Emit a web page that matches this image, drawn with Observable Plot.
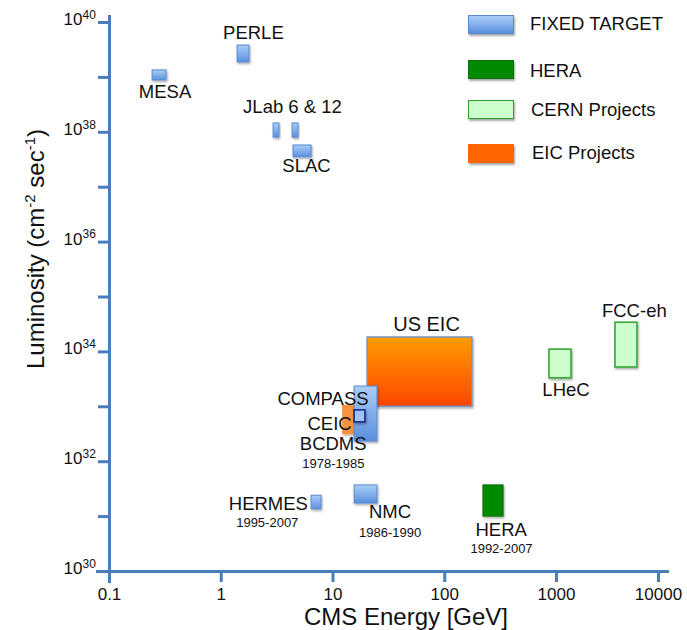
<!DOCTYPE html>
<html>
<head>
<meta charset="utf-8">
<script src="https://cdn.jsdelivr.net/npm/d3@7"></script>
<script src="https://cdn.jsdelivr.net/npm/@observablehq/plot@0.6"></script>
<style>
  body { margin: 0; background: #fff; }
  #wrap { position: relative; width: 687px; height: 630px; font-family: "Liberation Sans", Arial, sans-serif; }
  .sw { position: absolute; left: 468px; width: 46px; height: 19px; box-sizing: border-box; box-shadow: 1px 1.5px 2px rgba(0,0,0,0.35); }
  .lt { position: absolute; font-size: 18.5px; color: #111; white-space: nowrap; line-height: normal; }
</style>
</head>
<body>
<div id="wrap"></div>
<script>
// ---- data (energy in GeV, luminosity in cm^-2 s^-1) ----
const fixedTarget = [
  {name: "MESA",    e0: 0.243, e1: 0.324, l0: 8.8e38, l1: 1.34e39},
  {name: "PERLE",   e0: 1.40,  e1: 1.79,  l0: 1.87e39, l1: 3.8e39},
  {name: "JLab 6",  e0: 2.94,  e1: 3.32,  l0: 8.0e37, l1: 1.45e38},
  {name: "JLab 12", e0: 4.35,  e1: 4.91,  l0: 8.0e37, l1: 1.45e38},
  {name: "SLAC",    e0: 4.43,  e1: 6.43,  l0: 3.5e37, l1: 5.75e37},
  {name: "HERMES",  e0: 6.43,  e1: 7.89,  l0: 1.35e31, l1: 2.4e31},
  {name: "NMC",     e0: 15.6,  e1: 25.0,  l0: 1.73e31, l1: 3.7e31},
  {name: "COMPASS", e0: 15.6,  e1: 25.0,  l0: 2.33e32, l1: 2.34e33}
];
const bcdms = [{name: "BCDMS", e0: 15.6, e1: 19.5, l0: 5.2e32, l1: 8.6e32}];
const hera = [{name: "HERA", e0: 222, e1: 336, l0: 1.0e31, l1: 3.7e31}];
const cernProjects = [
  {name: "LHeC",   e0: 865,  e1: 1403, l0: 3.3e33, l1: 1.1e34},
  {name: "FCC-eh", e0: 3785, e1: 6220, l0: 5.2e33, l1: 3.4e34}
];
const usEic = [{name: "US EIC", e0: 20.4, e1: 177, l0: 1.0e33, l1: 1.83e34}];
const ceic = [{name: "CEIC", e0: 12.2, e1: 16.6, l0: 3.1e32, l1: 1.06e33}];

const labels = [
  {text: "PERLE",       e: 1.94, l: 10 ** 39.80,  size: 18.5},
  {text: "MESA",        e: 0.314, l: 10 ** 38.725, size: 18.5},
  {text: "JLab 6 & 12", e: 4.34, l: 10 ** 38.452, size: 18.5},
  {text: "SLAC",        e: 5.79, l: 10 ** 37.377, size: 18.5},
  {text: "US EIC",      e: 68.7, l: 10 ** 34.499, size: 20},
  {text: "COMPASS",     e: 8.14, l: 10 ** 33.133, size: 18.5},
  {text: "CEIC",        e: 9.31, l: 10 ** 32.678, size: 18.5},
  {text: "BCDMS",       e: 10.04, l: 10 ** 32.313, size: 18.5},
  {text: "1978-1985",   e: 10.06, l: 10 ** 31.967, size: 13},
  {text: "HERMES",      e: 2.64, l: 10 ** 31.230, size: 18.5},
  {text: "1995-2007",   e: 2.58, l: 10 ** 30.893, size: 13},
  {text: "NMC",         e: 32.4, l: 10 ** 31.084, size: 18.5},
  {text: "1986-1990",   e: 32.4, l: 10 ** 30.710, size: 13},
  {text: "HERA",        e: 320, l: 10 ** 30.756, size: 18.5},
  {text: "1992-2007",   e: 322, l: 10 ** 30.419, size: 13},
  {text: "LHeC",        e: 1240, l: 10 ** 33.297, size: 18.5},
  {text: "FCC-eh",      e: 5795, l: 10 ** 34.745, size: 18.5}
];

const xTicks = [0.1, 1, 10, 100, 1000, 10000];
const yTickExps = [30, 31, 32, 33, 34, 35, 36, 37, 38, 39, 40];
const yLabelExps = [30, 32, 34, 36, 38, 40];
const xTitle = "CMS Energy [GeV]";
const yTitle = "Luminosity (cm-2 sec-1)";
const legendItems = [
  {label: "FIXED TARGET", cls: "ft"},
  {label: "HERA", cls: "hera"},
  {label: "CERN Projects", cls: "cern"},
  {label: "EIC Projects", cls: "eic"}
];

// ---- chart ----
const axisColor = "#4a7ebb";
const txt = "#111";
const rectOpts = (fill, stroke, sw = 1) => ({x1: "e0", x2: "e1", y1: "l0", y2: "l1", fill, stroke, strokeWidth: sw});

const svg = Plot.plot({
  width: 687,
  height: 630,
  marginLeft: 109,
  marginRight: 18,
  marginTop: 22,
  marginBottom: 59,
  style: {fontFamily: '"Liberation Sans", Arial, sans-serif', background: "#fff", color: txt, overflow: "visible"},
  x: {type: "log", domain: [0.1, 1000, 10000], range: [109, 556, 658]},
  y: {type: "log", domain: [1e30, 1e40]},
  marks: [
    Plot.rect(usEic, rectOpts("url(#gradEic)", "#7596c4", 1.5)),
    Plot.rect(ceic, rectOpts("#f5933f", "none")),
    Plot.rect(fixedTarget, rectOpts("url(#gradBlue)", "#5a8ad0", 1)),
    Plot.rect(bcdms, rectOpts("#9fc3f3", "#1c2a8c", 1.6)),
    Plot.rect(hera, rectOpts("#008a00", "#0a700a", 1)),
    Plot.rect(cernProjects, rectOpts("#ccffcc", "#35a835", 1.6)),
    // axes
    Plot.axisY(yTickExps.map(k => 10 ** k), {tickSize: 11, stroke: axisColor, strokeWidth: 3, fill: "none", label: null}),
    Plot.axisX(xTicks, {tickSize: 11, tickPadding: 5, stroke: axisColor, strokeWidth: 3, fill: txt, fontSize: 17, label: null, tickFormat: d => String(d)}),
    Plot.ruleX([0.1], {stroke: axisColor, strokeWidth: 3, insetTop: -7, insetBottom: -12}),
    Plot.ruleY([1e30], {stroke: axisColor, strokeWidth: 3, insetLeft: -13}),
    // y tick labels 10^k
    Plot.text(yLabelExps, {frameAnchor: "left", y: d => 10 ** d, text: () => "10", textAnchor: "end", lineAnchor: "middle", dx: -27, dy: -3, fontSize: 17, fill: txt}),
    Plot.text(yLabelExps, {frameAnchor: "left", y: d => 10 ** d, text: d => String(d), textAnchor: "start", lineAnchor: "middle", dx: -27, dy: -7.5, fontSize: 12, fill: txt}),
    // annotations
    Plot.text(labels, {x: "e", y: "l", text: "text", fontSize: d => d.size, fill: txt}),
    // axis titles
    Plot.text([xTitle], {frameAnchor: "bottom", textAnchor: "middle", lineAnchor: "middle", dx: 16.5, dy: 45.5, fontSize: 24, fill: txt}),
    Plot.text([yTitle], {frameAnchor: "left", textAnchor: "middle", lineAnchor: "middle", dx: -73, dy: -48, rotate: -90, fontSize: 24, fill: txt})
  ]
});

// gradients and shadow
const s = d3.select(svg);
const defs = s.insert("defs", ":first-child");
const gb = defs.append("linearGradient").attr("id", "gradBlue").attr("x1", 0).attr("y1", 0).attr("x2", 0).attr("y2", 1);
gb.append("stop").attr("offset", "0%").attr("stop-color", "#abcdf8");
gb.append("stop").attr("offset", "100%").attr("stop-color", "#5a8fdc");
const ge = defs.append("linearGradient").attr("id", "gradEic").attr("x1", 0).attr("y1", 0).attr("x2", 0).attr("y2", 1);
ge.append("stop").attr("offset", "0%").attr("stop-color", "#ff9c00");
ge.append("stop").attr("offset", "100%").attr("stop-color", "#ff4600");
const f = defs.append("filter").attr("id", "shadow").attr("x", "-20%").attr("y", "-20%").attr("width", "150%").attr("height", "150%");
f.append("feDropShadow").attr("dx", 1).attr("dy", 1.5).attr("stdDeviation", 1).attr("flood-color", "#000").attr("flood-opacity", 0.35);
s.selectAll("rect").filter(function() { return this.getAttribute("fill") !== "white" && this.parentNode.tagName === "g"; }).attr("filter", "url(#shadow)");

// superscripts in y title
s.selectAll("text").each(function() {
  if (this.textContent !== yTitle) return;
  const yt = d3.select(this);
  yt.selectAll("*").remove();
  yt.text(null);
  yt.append("tspan").text("Luminosity (cm");
  yt.append("tspan").attr("font-size", 15).attr("dy", -9).text("-2");
  yt.append("tspan").attr("dy", 9).text(" sec");
  yt.append("tspan").attr("font-size", 15).attr("dy", -9).text("-1");
  yt.append("tspan").attr("dy", 9).text(")");
});

const wrap = document.getElementById("wrap");
wrap.appendChild(svg);

// legend overlay
const swStyles = {
  ft: "background:linear-gradient(#abcdf8,#5a8fdc);border:1px solid #5a8ad0;",
  hera: "background:#008a00;border:1px solid #0a700a;",
  cern: "background:#ccffcc;border:1.5px solid #2e9f2e;",
  eic: "background:#ff6600;"
};
const swTops = [15, 60, 100, 144];
const ltTops = [13, 60, 99, 142];
const ltLefts = [530, 530, 531, 532];
legendItems.forEach((it, i) => {
  const sw = document.createElement("div");
  sw.className = "sw";
  sw.style.cssText = swStyles[it.cls] + "top:" + swTops[i] + "px;";
  wrap.appendChild(sw);
  const lt = document.createElement("div");
  lt.className = "lt";
  lt.style.top = ltTops[i] + "px";
  lt.style.left = ltLefts[i] + "px";
  lt.textContent = it.label;
  wrap.appendChild(lt);
});
</script>
</body>
</html>
